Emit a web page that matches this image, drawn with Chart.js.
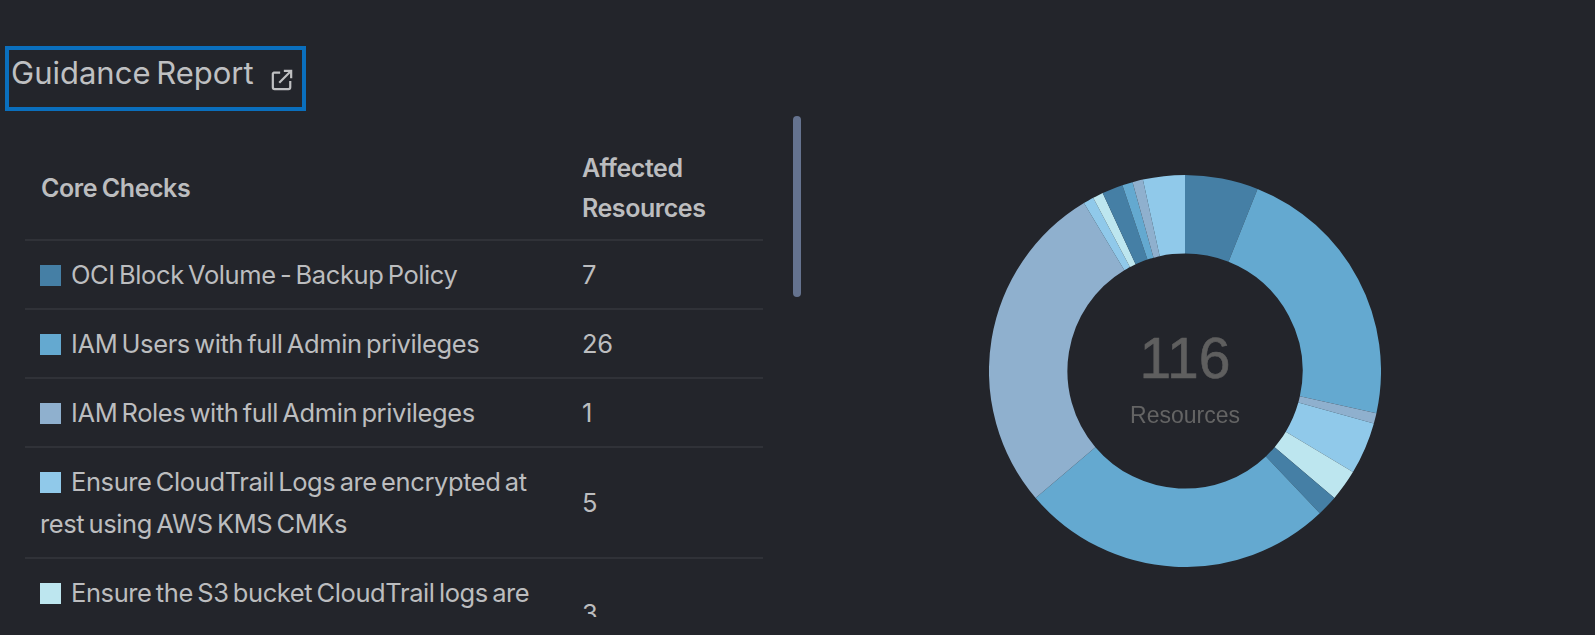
<!DOCTYPE html>
<html>
<head>
<meta charset="utf-8">
<title>Guidance Report</title>
<script src="https://cdn.jsdelivr.net/npm/chart.js@4/dist/chart.umd.min.js"></script>
<style>
  html, body { margin: 0; padding: 0; background: #23252b; width: 1595px; height: 635px; overflow: hidden; font-family: Inter, sans-serif; }
  #titlebox { position: absolute; left: 5px; top: 46px; width: 301px; height: 65px; border: 4px solid #0a6fbd; box-sizing: border-box; }
  #title { position: absolute; left: 11px; top: 52px; font-size: 31px; line-height: 42px; color: #bfc0c2; letter-spacing: 0; word-spacing: -3px; white-space: nowrap; }
  #ext { position: absolute; left: 271px; top: 69px; }
  #tablewrap { position: absolute; left: 25px; top: 135px; width: 738px; height: 482px; overflow: hidden; }
  table { border-collapse: collapse; table-layout: fixed; width: 738px; color: #bcbdbf; font-size: 25.5px; letter-spacing: -0.4px; word-spacing: -2.5px; }
  th { font-weight: 600; font-size: 25px; letter-spacing: -0.45px; word-spacing: -1px; text-align: left; line-height: 40px; padding: 13px 30px 11px 16px; }
  td { line-height: 42px; padding: 12.5px 30px 12.5px 15px; border-top: 2px solid #303238; }
  td:last-child, th:last-child { padding-left: 0; padding-right: 0; }
  .sw { display: inline-block; width: 21px; height: 21px; margin-right: 10px; vertical-align: -2px; }
  #scroll { position: absolute; left: 793px; top: 116px; width: 8px; height: 181px; background: #65738f; border-radius: 4px; }
  #chartbox { position: absolute; left: 989px; top: 175px; width: 392px; height: 392px; }
  #num { position: absolute; left: 1085px; top: 325px; width: 200px; text-align: center; font-family: "Liberation Sans", sans-serif; font-size: 57px; line-height: 66px; color: #5f5f5f; -webkit-text-stroke: 0.6px #5f5f5f; }
  #lbl { position: absolute; left: 1085px; top: 400px; width: 200px; text-align: center; font-family: "Liberation Sans", sans-serif; font-size: 23px; line-height: 30px; color: #646464; }
</style>
</head>
<body>
<div id="titlebox"></div>
<div id="title">Guidance Report</div>
<svg id="ext" width="22" height="22" viewBox="0 0 24 24" fill="none" stroke="#bfc0c2" stroke-width="2.4"><path d="M10 4H3a2 2 0 0 0-1 1v15a2 2 0 0 0 2 2h15a2 2 0 0 0 2-2v-7"/><path d="M9 15L22 2M14 2h8v8"/></svg>
<div id="tablewrap"><table id="tbl"><colgroup><col style="width:557px"><col style="width:181px"></colgroup></table></div>
<div id="scroll"></div>
<div id="chartbox"><canvas id="donut" width="392" height="392"></canvas></div>
<div id="num"></div>
<div id="lbl">Resources</div>
<script>
var headers = ['Core Checks', 'Affected<br>Resources'];
var tableChecks = [
  'OCI Block Volume - Backup Policy',
  'IAM Users with full Admin privileges',
  'IAM Roles with full Admin privileges',
  'Ensure CloudTrail Logs are encrypted at rest using AWS KMS CMKs',
  'Ensure the S3 bucket CloudTrail logs are'
];
var values = [7, 26, 1, 5, 3, 2, 30, 32, 1, 1, 2, 1, 1, 4];
var palette = ['#457fa5', '#64a9d0', '#8fb0ce', '#90c9ea', '#bde6ef'];
var total = 116;

var html = '<tr><th>' + headers[0] + '</th><th>' + headers[1] + '</th></tr>';
tableChecks.forEach(function (name, i) {
  // last row is cut off by the scroll area, its second line is blank here
  var tail = i == tableChecks.length - 1 ? '<br>&nbsp;' : '';
  html += '<tr><td><span class="sw" style="background:' + palette[i] + '"></span>' + name + tail + '</td><td>' + values[i] + '</td></tr>';
});
document.getElementById('tbl').insertAdjacentHTML('beforeend', html);
document.getElementById('num').textContent = total;

var colors = values.map(function (v, i) { return palette[i % palette.length]; });
var labels = values.map(function (v, i) { return tableChecks[i] || ''; });

new Chart(document.getElementById('donut'), {
  type: 'doughnut',
  data: {
    labels: labels,
    datasets: [{ data: values, backgroundColor: colors, borderWidth: 0 }]
  },
  options: {
    responsive: false,
    animation: false,
    cutout: '60%',
    plugins: { legend: { display: false }, tooltip: { enabled: false } }
  }
});
</script>
</body>
</html>
